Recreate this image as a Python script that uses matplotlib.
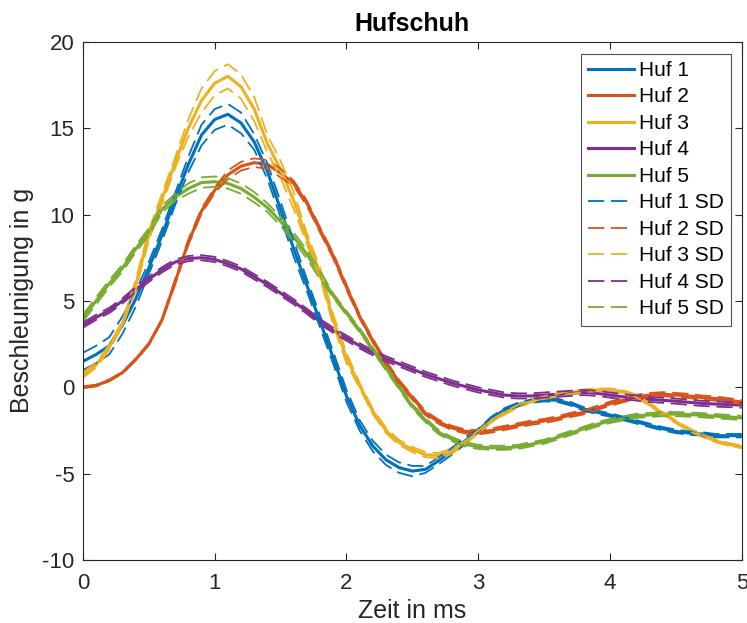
import numpy as np
import matplotlib
matplotlib.use("Agg")
import matplotlib.pyplot as plt

plt.rcParams['font.family'] = ['Liberation Sans', 'DejaVu Sans']
plt.rcParams['axes.unicode_minus'] = False

# time in ms
t = np.round(np.arange(0, 5.01, 0.1), 2)

huf1 = [1.5, 1.9, 2.4, 3.6, 5.1, 6.9, 8.8, 10.9, 12.9, 14.6,
        15.5, 15.8, 15.3, 14.2, 12.5, 10.3, 8.0, 5.9, 3.8, 1.7,
        -0.5, -2.2, -3.4, -4.2, -4.65, -4.85, -4.75, -4.25, -3.7, -3.1,
        -2.5, -1.8, -1.3, -1.0, -0.8, -0.72, -0.75, -0.95, -1.25, -1.45,
        -1.6, -1.8, -2.0, -2.2, -2.4, -2.55, -2.65, -2.7, -2.8, -2.8,
        -2.8]
huf2 = [0.0, 0.1, 0.4, 0.85, 1.6, 2.5, 3.9, 6.1, 8.4, 10.2,
        11.4, 12.3, 12.8, 13.0, 12.9, 12.4, 11.8, 10.65, 9.1, 7.6,
        5.8, 4.1, 2.7, 1.4, 0.3, -0.6, -1.5, -2.0, -2.35, -2.55,
        -2.6, -2.5, -2.35, -2.2, -2.05, -1.95, -1.8, -1.6, -1.45, -1.2,
        -0.95, -0.75, -0.55, -0.45, -0.4, -0.45, -0.5, -0.6, -0.65, -0.75,
        -0.85]
huf3 = [0.7, 1.3, 2.3, 3.7, 5.9, 8.8, 10.9, 13.0, 15.0, 16.6,
        17.6, 18.0, 17.4, 16.1, 14.1, 12.6, 10.8, 8.6, 6.6, 3.9,
        1.7, 0.1, -1.4, -2.5, -3.2, -3.6, -3.9, -3.95, -3.7, -3.2,
        -2.6, -1.95, -1.5, -1.1, -0.8, -0.6, -0.45, -0.3, -0.2, -0.15,
        -0.15, -0.25, -0.5, -1.0, -1.5, -2.0, -2.45, -2.8, -3.1, -3.3,
        -3.45]
huf4 = [3.6, 4.05, 4.45, 5.0, 5.65, 6.25, 6.8, 7.25, 7.45, 7.5,
        7.4, 7.15, 6.85, 6.4, 5.95, 5.45, 4.95, 4.4, 3.8, 3.3,
        2.85, 2.4, 2.0, 1.65, 1.35, 1.05, 0.75, 0.5, 0.25, 0.05,
        -0.15, -0.3, -0.45, -0.5, -0.5, -0.45, -0.4, -0.35, -0.3, -0.35,
        -0.45, -0.55, -0.62, -0.7, -0.75, -0.8, -0.87, -0.93, -0.97, -1.0,
        -1.03]
huf5 = [4.0, 5.0, 6.0, 6.9, 8.0, 9.0, 10.3, 11.0, 11.5, 11.85,
        11.9, 11.8, 11.5, 11.0, 10.4, 9.6, 8.7, 7.7, 6.5, 5.3,
        4.3, 3.3, 2.2, 1.1, 0.0, -1.1, -1.9, -2.6, -3.0, -3.3,
        -3.45, -3.5, -3.5, -3.45, -3.3, -3.15, -2.9, -2.65, -2.4, -2.15,
        -1.95, -1.8, -1.65, -1.6, -1.55, -1.55, -1.58, -1.62, -1.67, -1.72,
        -1.77]

sd1 = [0.5, 0.5, 0.5, 0.5, 0.45, 0.35, 0.35, 0.35, 0.45, 0.6,
       0.6, 0.6, 0.6, 0.45, 0.45, 0.45, 0.45, 0.35, 0.35, 0.35,
       0.35, 0.3, 0.3, 0.3, 0.3, 0.3, 0.2, 0.2, 0.2, 0.2,
       0.1, 0.1, 0.1, 0.1, 0.1, 0.1, 0.1, 0.1, 0.1, 0.1,
       0.1, 0.1, 0.1, 0.1, 0.1, 0.1, 0.1, 0.1, 0.1, 0.1,
       0.1]
sd2 = [0.05, 0.05, 0.05, 0.05, 0.05, 0.05, 0.05, 0.15, 0.15, 0.15,
       0.15, 0.25, 0.25, 0.25, 0.25, 0.25, 0.15, 0.15, 0.15, 0.15,
       0.15, 0.12, 0.12, 0.12, 0.12, 0.12, 0.12, 0.12, 0.12, 0.12,
       0.12, 0.12, 0.12, 0.12, 0.12, 0.12, 0.12, 0.12, 0.12, 0.12,
       0.12, 0.12, 0.12, 0.12, 0.12, 0.12, 0.12, 0.12, 0.12, 0.12,
       0.12]
sd3 = [0.15, 0.15, 0.15, 0.15, 0.3, 0.3, 0.3, 0.3, 0.5, 0.7,
       0.7, 0.7, 0.7, 0.7, 0.5, 0.5, 0.5, 0.3, 0.3, 0.3,
       0.3, 0.15, 0.15, 0.15, 0.15, 0.15, 0.15, 0.15, 0.15, 0.08,
       0.08, 0.08, 0.08, 0.08, 0.08, 0.08, 0.08, 0.08, 0.08, 0.08,
       0.08, 0.08, 0.08, 0.08, 0.08, 0.08, 0.08, 0.08, 0.08, 0.08,
       0.08]
sd4 = [0.15] * 51
sd5 = [0.2, 0.2, 0.2, 0.2, 0.2, 0.2, 0.2, 0.2, 0.3, 0.3,
       0.3, 0.3, 0.3, 0.3, 0.25, 0.25, 0.25, 0.25, 0.25, 0.12,
       0.12, 0.12, 0.12, 0.12, 0.12, 0.12, 0.12, 0.12, 0.12, 0.12,
       0.12, 0.12, 0.12, 0.12, 0.12, 0.12, 0.12, 0.12, 0.12, 0.12,
       0.12, 0.12, 0.12, 0.12, 0.12, 0.12, 0.12, 0.12, 0.12, 0.12,
       0.12]

means = [huf1, huf2, huf3, huf4, huf5]
sds = [sd1, sd2, sd3, sd4, sd5]
names = ["Huf 1", "Huf 2", "Huf 3", "Huf 4", "Huf 5"]
colors = ["#0072BD", "#D95319", "#EDB120", "#7E2F8E", "#77AC30"]

fig = plt.figure(figsize=(7.47, 6.23), dpi=100)
ax = fig.add_axes([0.111, 0.101, 0.882, 0.832])

for m, name, c in zip(means, names, colors):
    ax.plot(t, m, color=c, lw=2.2, label=name)

for m, s, name, c in zip(means, sds, names, colors):
    m = np.array(m)
    s = np.array(s)
    ax.plot(t, m + s, color=c, lw=1.3, ls=(0, (9, 3.7)), label=name + " SD")
    ax.plot(t, m - s, color=c, lw=1.3, ls=(0, (9, 3.7)))

ax.set_xlim(0, 5)
ax.set_ylim(-10, 20)
ax.set_xticks([0, 1, 2, 3, 4, 5])
ax.set_yticks([-10, -5, 0, 5, 10, 15, 20])
ax.tick_params(direction="in", labelsize=16, colors="#262626",
               top=True, right=True, length=5, width=0.8, pad=6)
ax.tick_params(axis="x", pad=9)
for sp in ax.spines.values():
    sp.set_color("#262626")
    sp.set_linewidth(0.8)

ax.set_xlabel("Zeit in ms", fontsize=18, color="#262626", labelpad=4)
ax.set_ylabel("Beschleunigung in g", fontsize=18, color="#262626", labelpad=6)
ax.set_title("Hufschuh", fontsize=18, fontweight="bold", pad=8)

leg = ax.legend(loc="upper right", fontsize=15, frameon=True, fancybox=False,
                handlelength=2.2, handletextpad=0.25, labelspacing=0.36,
                borderpad=0.35, borderaxespad=0, bbox_to_anchor=(0.984, 0.977))
leg.get_frame().set_edgecolor("#262626")
leg.get_frame().set_linewidth(0.8)

fig.savefig("out.png", dpi=100)
